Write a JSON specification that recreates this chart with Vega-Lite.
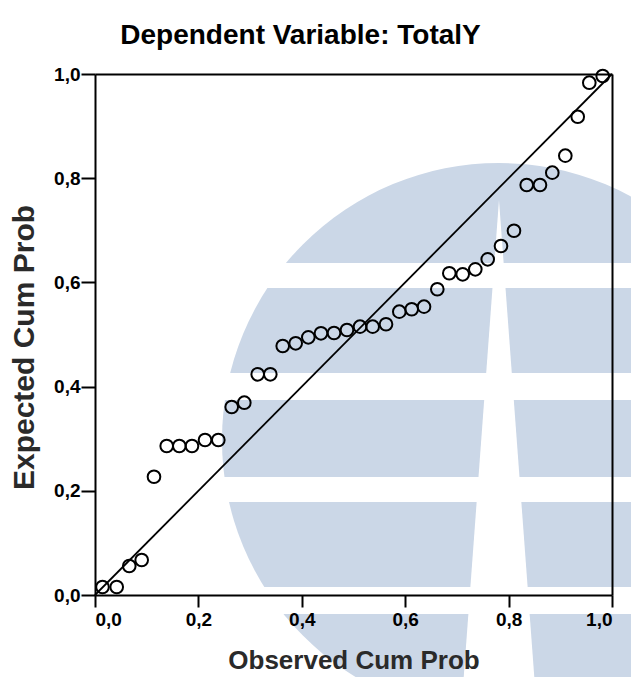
{
  "$schema": "https://vega.github.io/schema/vega-lite/v6.json",
  "width": 517,
  "height": 521,
  "autosize": {"type": "none"},
  "padding": {"left": 95, "top": 74, "right": 19, "bottom": 82},
  "background": "white",
  "title": {
    "text": "Dependent Variable: TotalY",
    "font": "Liberation Sans",
    "fontSize": 28,
    "fontWeight": "bold",
    "color": "#000000",
    "anchor": "middle",
    "dx": -53,
    "offset": 15
  },
  "config": {
    "view": {"stroke": null},
    "font": "Liberation Sans",
    "axis": {"grid": false}
  },
  "datasets": {
    "points": [
      {"observed": 0.0145, "expected": 0.0154},
      {"observed": 0.042, "expected": 0.0154},
      {"observed": 0.0663, "expected": 0.0557},
      {"observed": 0.0903, "expected": 0.0672},
      {"observed": 0.1141, "expected": 0.227},
      {"observed": 0.1387, "expected": 0.286},
      {"observed": 0.1631, "expected": 0.286},
      {"observed": 0.1876, "expected": 0.286},
      {"observed": 0.2128, "expected": 0.2975},
      {"observed": 0.2385, "expected": 0.2975},
      {"observed": 0.2644, "expected": 0.3608},
      {"observed": 0.2888, "expected": 0.3691},
      {"observed": 0.3147, "expected": 0.4236},
      {"observed": 0.3391, "expected": 0.4236},
      {"observed": 0.3631, "expected": 0.4779},
      {"observed": 0.3882, "expected": 0.4831},
      {"observed": 0.4126, "expected": 0.4946},
      {"observed": 0.4371, "expected": 0.5023},
      {"observed": 0.4623, "expected": 0.5029},
      {"observed": 0.4874, "expected": 0.5086},
      {"observed": 0.5126, "expected": 0.515},
      {"observed": 0.5371, "expected": 0.515},
      {"observed": 0.5629, "expected": 0.5196},
      {"observed": 0.5886, "expected": 0.5438},
      {"observed": 0.6126, "expected": 0.5484},
      {"observed": 0.6364, "expected": 0.5534},
      {"observed": 0.6621, "expected": 0.5868},
      {"observed": 0.6853, "expected": 0.6175},
      {"observed": 0.7112, "expected": 0.6155},
      {"observed": 0.7356, "expected": 0.6251},
      {"observed": 0.7596, "expected": 0.6443},
      {"observed": 0.7853, "expected": 0.6699},
      {"observed": 0.8104, "expected": 0.6992},
      {"observed": 0.835, "expected": 0.787},
      {"observed": 0.8607, "expected": 0.787},
      {"observed": 0.8845, "expected": 0.8106},
      {"observed": 0.9097, "expected": 0.8432},
      {"observed": 0.9337, "expected": 0.918},
      {"observed": 0.9561, "expected": 0.9833},
      {"observed": 0.982, "expected": 0.9962}
    ],
    "disc": [{"cx": 0.7814, "cy": 0.2975}],
    "hstripes": [
      {"xa": 0.2, "xb": 1.1, "ya": 0.6372, "yb": 0.5893},
      {"xa": 0.2, "xb": 1.1, "ya": 0.4261, "yb": 0.3743},
      {"xa": 0.2, "xb": 1.1, "ya": 0.2265, "yb": 0.1785},
      {"xa": 0.2, "xb": 1.1, "ya": 0.0154, "yb": -0.0365}
    ],
    "vstripe": [
      {"yv": 0.7582, "xl": 0.7814, "xr": 0.7814},
      {"yv": -0.2015, "xl": 0.7099, "xr": 0.853}
    ],
    "diag": [
      {"dx": 0, "dy": 0},
      {"dx": 1, "dy": 1}
    ]
  },
  "resolve": {"axis": {"x": "independent", "y": "independent"}},
  "layer": [
    {
      "data": {"name": "disc"},
      "mark": {"type": "point", "shape": "circle", "filled": true, "size": 306916, "color": "#cbd7e7", "opacity": 1, "strokeWidth": 0},
      "encoding": {
        "x": {"field": "cx", "type": "quantitative", "scale": {"domain": [0, 1], "nice": false, "zero": false}, "axis": null},
        "y": {"field": "cy", "type": "quantitative", "scale": {"domain": [0, 1], "nice": false, "zero": false}, "axis": null}
      }
    },
    {
      "data": {"name": "hstripes"},
      "mark": {"type": "rect", "color": "white"},
      "encoding": {
        "x": {"field": "xa", "type": "quantitative", "axis": null},
        "x2": {"field": "xb"},
        "y": {"field": "ya", "type": "quantitative", "axis": null},
        "y2": {"field": "yb"}
      }
    },
    {
      "data": {"name": "vstripe"},
      "mark": {"type": "area", "orient": "horizontal", "color": "white", "opacity": 1},
      "encoding": {
        "y": {"field": "yv", "type": "quantitative", "axis": null},
        "x": {"field": "xl", "type": "quantitative", "axis": null},
        "x2": {"field": "xr"}
      }
    },
    {
      "data": {"name": "diag"},
      "mark": {"type": "line", "color": "#000000", "strokeWidth": 1.8},
      "encoding": {
        "x": {"field": "dx", "type": "quantitative", "axis": {"orient": "top", "zindex": 2, "labels": false, "ticks": false, "title": null, "domainColor": "#000000", "domainWidth": 2}},
        "y": {"field": "dy", "type": "quantitative", "axis": {"orient": "right", "zindex": 2, "labels": false, "ticks": false, "title": null, "domainColor": "#000000", "domainWidth": 2}}
      }
    },
    {
      "data": {"name": "points"},
      "mark": {"type": "point", "shape": "circle", "filled": false, "size": 160, "stroke": "#000000", "strokeWidth": 2, "opacity": 1},
      "encoding": {
        "x": {
          "field": "observed", "type": "quantitative",
          "axis": {
            "orient": "bottom", "zindex": 2, "values": [0, 0.2, 0.4, 0.6, 0.8, 1.0],
            "labelExpr": "replace(format(datum.value, '.1f'), '.', ',')",
            "title": "Observed Cum Prob", "titleFontSize": 26, "titleFontWeight": "bold", "titleColor": "#2a2a2a", "titlePadding": 18,
            "labelFontSize": 19, "labelFontWeight": "bold", "labelColor": "#000000", "labelPadding": 3,
            "tickSize": 12, "tickWidth": 2, "tickColor": "#000000", "domainColor": "#000000", "domainWidth": 2
          }
        },
        "y": {
          "field": "expected", "type": "quantitative",
          "axis": {
            "orient": "left", "zindex": 2, "values": [0, 0.2, 0.4, 0.6, 0.8, 1.0],
            "labelExpr": "replace(format(datum.value, '.1f'), '.', ',')",
            "title": "Expected Cum Prob", "titleFontSize": 30, "titleFontWeight": "bold", "titleColor": "#2a2a2a", "titlePadding": 14, "titleY": 273,
            "labelFontSize": 19, "labelFontWeight": "bold", "labelColor": "#000000", "labelPadding": 1,
            "tickSize": 14, "tickWidth": 2, "tickColor": "#000000", "domainColor": "#000000", "domainWidth": 2
          }
        }
      }
    }
  ]
}
